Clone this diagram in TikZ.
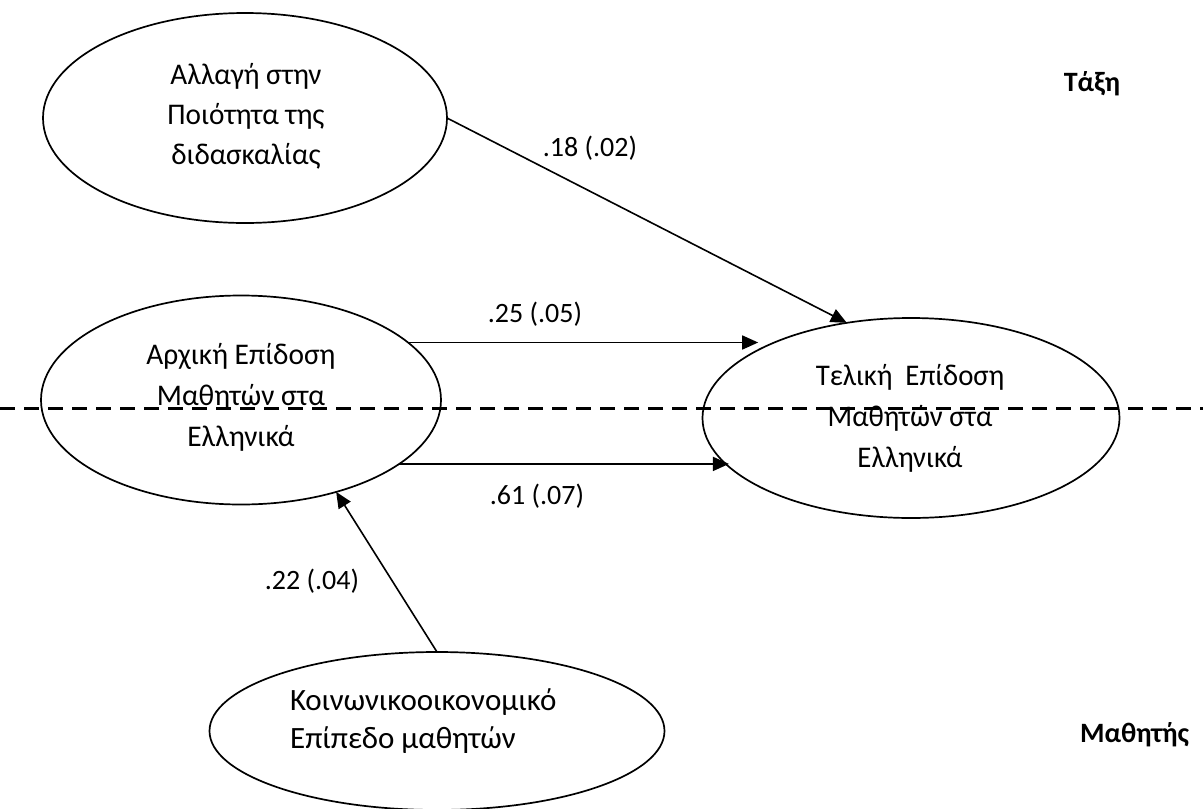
\documentclass[tikz,border=0pt]{standalone}
\usepackage{fontspec}
\usepackage{graphicx}
\setmainfont{Carlito}
\usetikzlibrary{arrows.meta,shapes.geometric}
\newcommand{\squeezed}[3]{\scalebox{#1}[1]{\begin{tabular}{@{}#2@{}}#3\end{tabular}}}
\begin{document}
\begin{tikzpicture}[x=1pt,y=-1pt,
  oval/.style={draw, ellipse, line width=1.7pt, inner sep=0pt, outer sep=0pt},
  otext/.style={inner sep=0pt},
  lbl/.style={inner sep=0pt, font=\fontsize{28}{34}\selectfont},
  level/.style={inner sep=0pt, font=\fontsize{28}{34}\selectfont\bfseries},
  arr/.style={line width=1.6pt, -{Triangle[length=16pt,width=14pt]}},
  sep/.style={line width=3pt, dash pattern=on 15pt off 9pt}]
\useasboundingbox (0,0) rectangle (1203,809);

% ellipses
\node[oval, minimum width=404pt, minimum height=210pt] (e1) at (245,118) {};
\node[oval, minimum width=400pt, minimum height=209pt] (e2) at (241,400) {};
\node[oval, minimum width=417pt, minimum height=200pt] (e3) at (911,418) {};
\node[oval, minimum width=455pt, minimum height=158pt] (e4) at (437,731) {};

% texts in ellipses
\node[otext, font=\fontsize{30}{40}\selectfont] (t1) at (246,116)
  {\squeezed{0.975}{c}{Αλλαγή στην\\Ποιότητα της\\διδασκαλίας}};
\node[otext, font=\fontsize{30}{41}\selectfont] (t2) at (241,397)
  {\squeezed{0.98}{c}{Αρχική Επίδοση\\Μαθητών στα\\Ελληνικά}};
\node[otext, font=\fontsize{30}{41}\selectfont] (t3) at (910,418)
  {\squeezed{0.96}{c}{Τελική \ Επίδοση\\Μαθητών στα\\Ελληνικά}};
\node[otext, font=\fontsize{31}{38}\selectfont, anchor=west] (t4) at (290,722)
  {\squeezed{1}{l}{Κοινωνικοοικονομικό\\Επίπεδο μαθητών}};

% level labels
\node[level] (lt) at (1092,84) {Τάξη};
\node[level, anchor=west] (lm) at (1080,735) {Μαθητής};

% separator
\coordinate (dl) at (0,408);
\coordinate (dr) at (1203,408);
\draw[sep] (dl) -- (dr);

% paths
\draw[arr] (e1.east) -- (e3.124);
\draw[arr] (e2.19) -- (e3.156 |- e2.19);
\draw[arr] (e2.-22) -- (e3.195 |- e2.-22);
\draw[arr] (e4.north) -- (e2.-44);

% coefficients
\node[lbl] (c1) at (590,148) {.18 (.02)};
\node[lbl] (c2) at (535,314) {.25 (.05)};
\node[lbl] (c3) at (537,496) {.61 (.07)};
\node[lbl] (c4) at (312,581) {.22 (.04)};
\end{tikzpicture}
\end{document}
